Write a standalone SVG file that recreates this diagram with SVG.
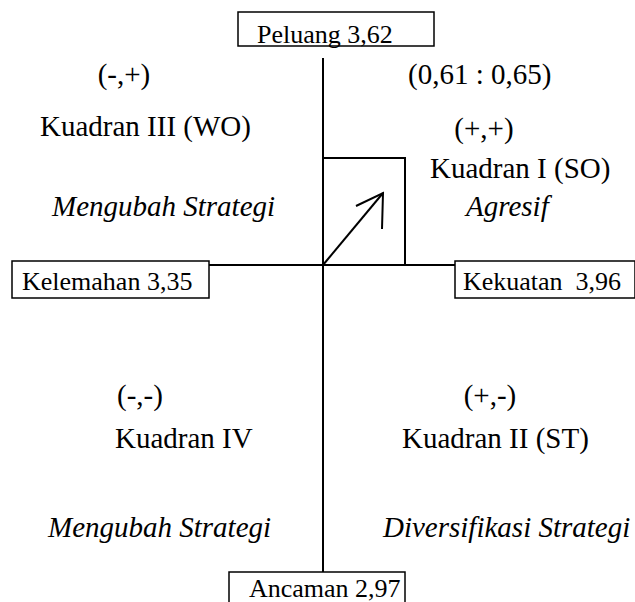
<svg xmlns="http://www.w3.org/2000/svg" width="635" height="602" viewBox="0 0 635 602" font-family="'Liberation Serif', 'Times New Roman', serif">
<style>
text{font-family:'Liberation Serif','Times New Roman',serif;font-size:26px;fill:#000}
.q{font-size:29px}
.i{font-style:italic}
.box{fill:#fff;stroke:#000;stroke-width:1.5}
.ln{stroke:#000;stroke-width:2;fill:none}
</style>
<rect width="635" height="602" fill="#fff"/>
<g id="connectors">
<line class="ln" x1="323" y1="58" x2="323" y2="572"/>
<line class="ln" x1="209" y1="265" x2="455" y2="265"/>
<polyline class="ln" points="323,158 405,158 405,265"/>
<line class="ln" x1="323" y1="265" x2="383" y2="193"/>
<polyline class="ln" points="356,206 383,193 382,229"/>
</g>
<g id="peluang"><rect class="box" x="238" y="12" width="196" height="34"/><text x="257" y="43">Peluang 3,62</text></g>
<g id="kelemahan"><rect class="box" x="12" y="261" width="197" height="37"/><text x="22" y="290">Kelemahan 3,35</text></g>
<g id="kekuatan"><rect class="box" x="455" y="261" width="180" height="37"/><text x="463" y="290" xml:space="preserve">Kekuatan  3,96</text></g>
<g id="ancaman"><rect class="box" x="229" y="572" width="176" height="40"/><text x="249" y="597">Ancaman 2,97</text></g>
<g id="q3" class="q"><text class="q" x="124" y="84" text-anchor="middle">(-,+)</text><text class="q" x="40" y="136">Kuadran III (WO)</text><text class="q i" x="52" y="216">Mengubah Strategi</text></g>
<g id="q1"><text class="q" x="408" y="84">(0,61 : 0,65)</text><text class="q" x="484" y="138" text-anchor="middle">(+,+)</text><text class="q" x="430" y="178">Kuadran I (SO)</text><text class="q i" x="466" y="216">Agresif</text></g>
<g id="q4"><text class="q" x="140" y="405" text-anchor="middle">(-,-)</text><text class="q" x="115" y="448">Kuadran IV</text><text class="q i" x="48" y="537">Mengubah Strategi</text></g>
<g id="q2"><text class="q" x="490" y="405" text-anchor="middle">(+,-)</text><text class="q" x="402" y="448">Kuadran II (ST)</text><text class="q i" x="383" y="537">Diversifikasi Strategi</text></g>
</svg>
